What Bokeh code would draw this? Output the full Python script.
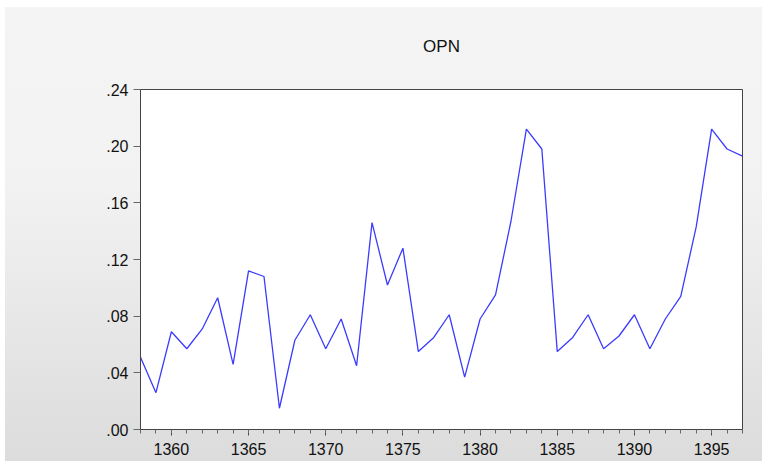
from bokeh.plotting import figure
from bokeh.models import FixedTicker, Range1d
from bokeh.embed import file_html
from bokeh.resources import INLINE

years = list(range(1358, 1398))
opn = [0.051, 0.026, 0.069, 0.057, 0.071, 0.093, 0.046, 0.112, 0.108, 0.015,
       0.063, 0.081, 0.057, 0.078, 0.045, 0.146, 0.102, 0.128, 0.055, 0.065,
       0.081, 0.037, 0.078, 0.095, 0.147, 0.212, 0.198, 0.055, 0.065, 0.081,
       0.057, 0.066, 0.081, 0.057, 0.078, 0.094, 0.143, 0.212, 0.198, 0.193]
y_ticks = [0.0, 0.04, 0.08, 0.12, 0.16, 0.20, 0.24]
y_labels = [".00", ".04", ".08", ".12", ".16", ".20", ".24"]
x_ticks = [1360, 1365, 1370, 1375, 1380, 1385, 1390, 1395]

p = figure(width=762, height=461, output_backend="svg", toolbar_location=None,
           x_range=Range1d(1358, 1397), y_range=Range1d(0, 0.24),
           min_border_left=140, min_border_right=20, min_border_top=72, min_border_bottom=32,
           title="OPN")
p.styles = {"background": "linear-gradient(to right, white 0px, white 5px, transparent 5px), "
                          "linear-gradient(to bottom, white 0px, white 7px, #f4f4f4 7px, #f2f2f2 40%, #dcdcdc 100%)"}
p.border_fill_alpha = 0
p.background_fill_color = "white"
p.outline_line_color = "#444444"
p.outline_line_width = 1

p.title.align = "center"
p.title.text_font = "Liberation Sans"
p.title.text_font_size = "17px"
p.title.text_font_style = "normal"
p.title.text_color = "#111111"
p.title.offset = 0
p.title.standoff = 68

p.grid.visible = False

p.line(years, opn, line_color="#3b3bff", line_width=1.3)

xa = p.xaxis[0]
xa.ticker = FixedTicker(ticks=x_ticks, minor_ticks=years)
xa.major_tick_in = 0
xa.major_tick_out = 6
xa.minor_tick_in = 0
xa.minor_tick_out = 4
xa.axis_line_color = "#444444"
xa.major_tick_line_color = "#444444"
xa.minor_tick_line_color = "#666666"
xa.major_label_text_font = "Liberation Sans"
xa.major_label_text_font_size = "16px"
xa.major_label_text_color = "#111111"
xa.major_label_standoff = 7

ya = p.yaxis[0]
ya.ticker = FixedTicker(ticks=y_ticks, minor_ticks=[])
ya.major_label_overrides = {t: l for t, l in zip(y_ticks, y_labels)}
ya.major_tick_in = 0
ya.major_tick_out = 7
ya.axis_line_color = "#444444"
ya.major_tick_line_color = "#666666"
ya.major_label_text_font = "Liberation Sans"
ya.major_label_text_font_size = "16px"
ya.major_label_text_color = "#111111"
ya.major_label_standoff = 5

open("out.html", "w").write(file_html(p, INLINE))
